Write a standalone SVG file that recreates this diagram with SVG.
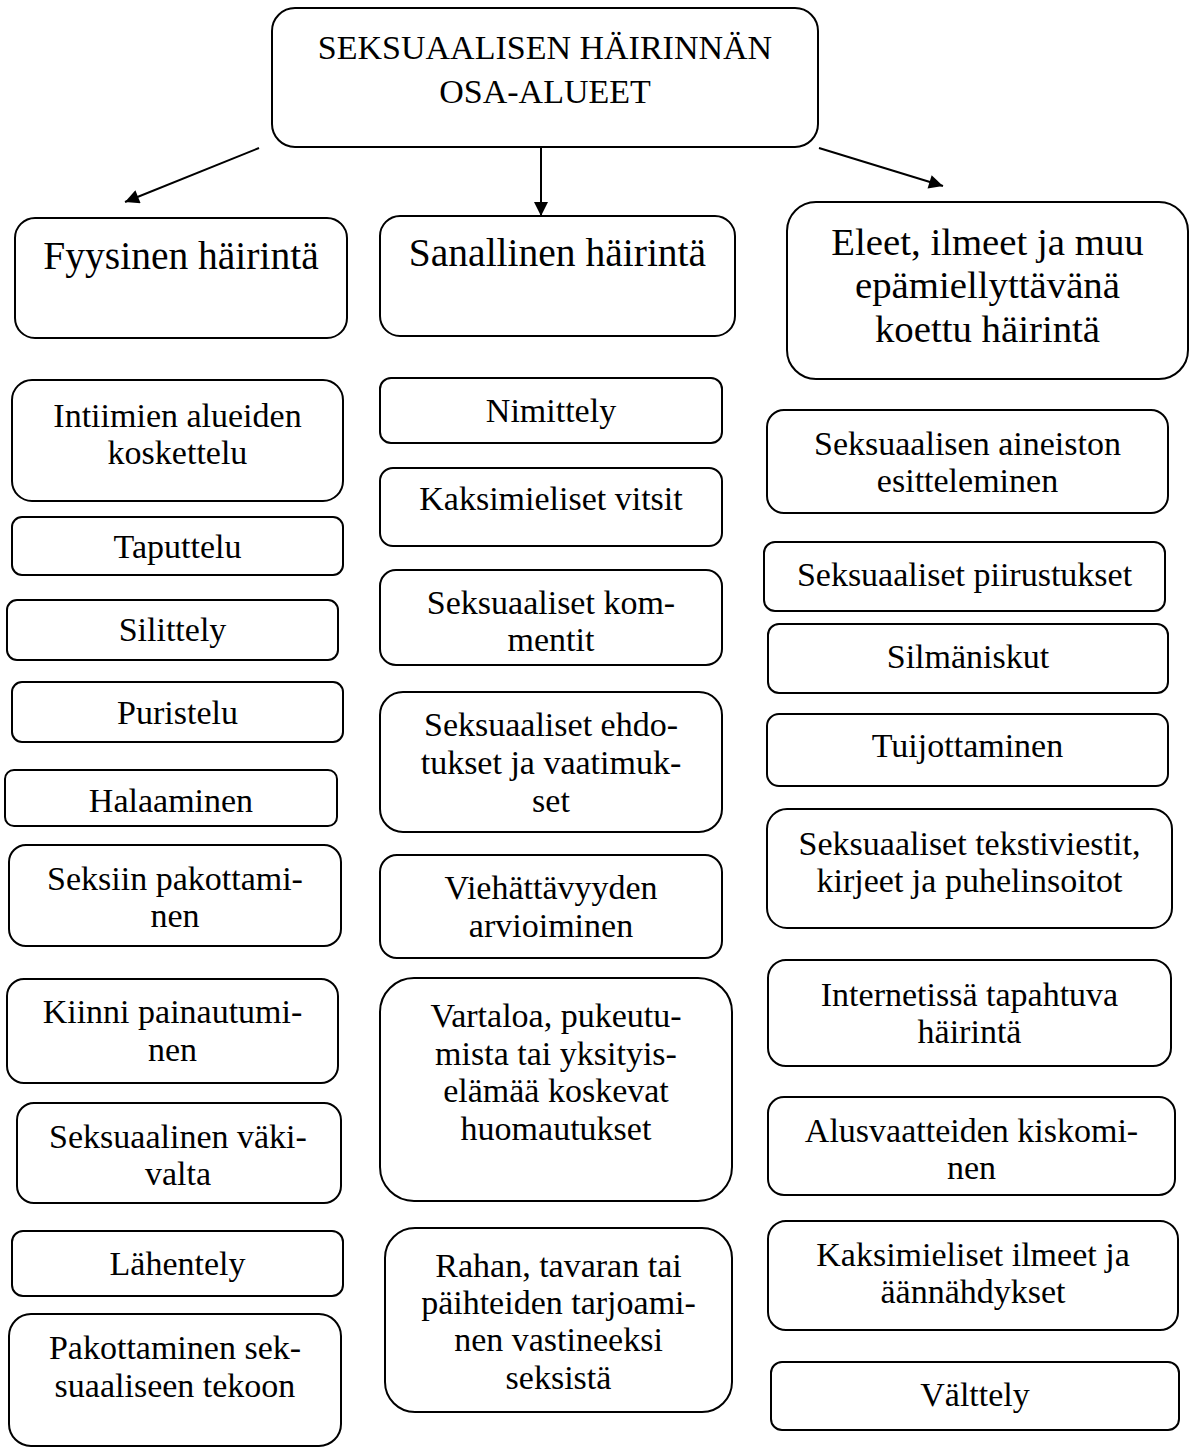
<svg xmlns="http://www.w3.org/2000/svg" width="1195" height="1448" viewBox="0 0 1195 1448">
<style>
.box{fill:#fff;stroke:#000;stroke-width:2}
.t{font-family:"Liberation Serif","Times New Roman",serif;font-size:34px;text-anchor:middle;fill:#000}
.h{font-size:39.5px}
.e{font-size:38.8px}
.ti{font-size:34px}
.c{stroke:#000;stroke-width:2;fill:none}
</style>
<defs>
<marker id="ah" viewBox="0 0 10 10" refX="10" refY="5" markerUnits="userSpaceOnUse" markerWidth="19" markerHeight="14" orient="auto">
<path d="M0,0 L10,5 L0,10 z" fill="#000"/>
</marker>
</defs>
<rect width="1195" height="1448" fill="#fff"/>

<g id="connectors">
<line class="c" x1="259" y1="148" x2="125" y2="202" marker-end="url(#ah)"/>
<line class="c" x1="541" y1="147" x2="541" y2="216" marker-end="url(#ah)"/>
<line class="c" x1="819" y1="148" x2="943" y2="186" marker-end="url(#ah)"/>
</g>

<g id="root">
<rect class="box" x="272" y="8" width="546" height="139" rx="23"/>
<text class="t ti" x="545" y="59">SEKSUAALISEN HÄIRINNÄN</text>
<text class="t ti" x="545" y="103">OSA-ALUEET</text>
</g>

<!-- Column 1 -->
<g id="fyysinen">
<rect class="box" x="15" y="218" width="332" height="120" rx="20"/>
<text class="t h" x="181" y="269">Fyysinen häirintä</text>
</g>
<g id="intiimien">
<rect class="box" x="12" y="380" width="331" height="121" rx="20"/>
<text class="t" x="177.5" y="427">Intiimien alueiden</text>
<text class="t" x="177.5" y="464">koskettelu</text>
</g>
<g id="taputtelu">
<rect class="box" x="12" y="517" width="331" height="58" rx="10"/>
<text class="t" x="177.5" y="558">Taputtelu</text>
</g>
<g id="silittely">
<rect class="box" x="7" y="600" width="331" height="60" rx="10"/>
<text class="t" x="172.5" y="641">Silittely</text>
</g>
<g id="puristelu">
<rect class="box" x="12" y="682" width="331" height="60" rx="10"/>
<text class="t" x="177.5" y="724">Puristelu</text>
</g>
<g id="halaaminen">
<rect class="box" x="5" y="770" width="332" height="56" rx="9"/>
<text class="t" x="171" y="812">Halaaminen</text>
</g>
<g id="seksiin">
<rect class="box" x="9" y="845" width="332" height="101" rx="17"/>
<text class="t" x="175" y="890">Seksiin pakottami-</text>
<text class="t" x="175" y="927">nen</text>
</g>
<g id="kiinni">
<rect class="box" x="7" y="979" width="331" height="104" rx="17"/>
<text class="t" x="172.5" y="1023">Kiinni painautumi-</text>
<text class="t" x="172.5" y="1061">nen</text>
</g>
<g id="vakivalta">
<rect class="box" x="17" y="1103" width="324" height="100" rx="17"/>
<text class="t" x="178" y="1148">Seksuaalinen väki-</text>
<text class="t" x="178" y="1185">valta</text>
</g>
<g id="lahentely">
<rect class="box" x="12" y="1231" width="331" height="65" rx="11"/>
<text class="t" x="177.5" y="1275">Lähentely</text>
</g>
<g id="pakottaminen">
<rect class="box" x="9" y="1314" width="332" height="132" rx="22"/>
<text class="t" x="175" y="1359">Pakottaminen sek-</text>
<text class="t" x="175" y="1397">suaaliseen tekoon</text>
</g>

<!-- Column 2 -->
<g id="sanallinen">
<rect class="box" x="380" y="216" width="355" height="120" rx="20"/>
<text class="t h" x="557.5" y="266">Sanallinen häirintä</text>
</g>
<g id="nimittely">
<rect class="box" x="380" y="378" width="342" height="65" rx="11"/>
<text class="t" x="551" y="422">Nimittely</text>
</g>
<g id="vitsit">
<rect class="box" x="380" y="468" width="342" height="78" rx="13"/>
<text class="t" x="551" y="510">Kaksimieliset vitsit</text>
</g>
<g id="kommentit">
<rect class="box" x="380" y="570" width="342" height="95" rx="16"/>
<text class="t" x="551" y="614">Seksuaaliset kom-</text>
<text class="t" x="551" y="651">mentit</text>
</g>
<g id="ehdotukset">
<rect class="box" x="380" y="692" width="342" height="140" rx="23"/>
<text class="t" x="551" y="736">Seksuaaliset ehdo-</text>
<text class="t" x="551" y="774">tukset ja vaatimuk-</text>
<text class="t" x="551" y="812">set</text>
</g>
<g id="viehattavyys">
<rect class="box" x="380" y="855" width="342" height="103" rx="17"/>
<text class="t" x="551" y="899">Viehättävyyden</text>
<text class="t" x="551" y="937">arvioiminen</text>
</g>
<g id="vartaloa">
<rect class="box" x="380" y="978" width="352" height="223" rx="34"/>
<text class="t" x="556" y="1027">Vartaloa, pukeutu-</text>
<text class="t" x="556" y="1065">mista tai yksityis-</text>
<text class="t" x="556" y="1102">elämää koskevat</text>
<text class="t" x="556" y="1140">huomautukset</text>
</g>
<g id="rahan">
<rect class="box" x="385" y="1228" width="347" height="184" rx="30"/>
<text class="t" x="558.5" y="1277">Rahan, tavaran tai</text>
<text class="t" x="558.5" y="1314">päihteiden tarjoami-</text>
<text class="t" x="558.5" y="1351">nen vastineeksi</text>
<text class="t" x="558.5" y="1389">seksistä</text>
</g>

<!-- Column 3 -->
<g id="eleet">
<rect class="box" x="787" y="202" width="401" height="177" rx="29"/>
<text class="t e" x="987.5" y="255">Eleet, ilmeet ja muu</text>
<text class="t e" x="987.5" y="298">epämiellyttävänä</text>
<text class="t e" x="987.5" y="342">koettu häirintä</text>
</g>
<g id="aineisto">
<rect class="box" x="767" y="410" width="401" height="103" rx="17"/>
<text class="t" x="967.5" y="455">Seksuaalisen aineiston</text>
<text class="t" x="967.5" y="492">esitteleminen</text>
</g>
<g id="piirustukset">
<rect class="box" x="764" y="542" width="401" height="69" rx="11"/>
<text class="t" x="964.5" y="586">Seksuaaliset piirustukset</text>
</g>
<g id="silmaniskut">
<rect class="box" x="768" y="624" width="400" height="69" rx="11"/>
<text class="t" x="968" y="668">Silmäniskut</text>
</g>
<g id="tuijottaminen">
<rect class="box" x="767" y="714" width="401" height="72" rx="12"/>
<text class="t" x="967.5" y="757">Tuijottaminen</text>
</g>
<g id="tekstiviestit">
<rect class="box" x="767" y="809" width="405" height="119" rx="20"/>
<text class="t" x="969.5" y="855">Seksuaaliset tekstiviestit,</text>
<text class="t" x="969.5" y="892">kirjeet ja puhelinsoitot</text>
</g>
<g id="internet">
<rect class="box" x="768" y="960" width="403" height="106" rx="18"/>
<text class="t" x="969.5" y="1006">Internetissä tapahtuva</text>
<text class="t" x="969.5" y="1043">häirintä</text>
</g>
<g id="alusvaatteet">
<rect class="box" x="768" y="1097" width="407" height="98" rx="16"/>
<text class="t" x="971.5" y="1142">Alusvaatteiden kiskomi-</text>
<text class="t" x="971.5" y="1179">nen</text>
</g>
<g id="ilmeet">
<rect class="box" x="768" y="1221" width="410" height="109" rx="18"/>
<text class="t" x="973" y="1266">Kaksimieliset ilmeet ja</text>
<text class="t" x="973" y="1303">äännähdykset</text>
</g>
<g id="valttely">
<rect class="box" x="771" y="1362" width="408" height="68" rx="11"/>
<text class="t" x="975" y="1406">Välttely</text>
</g>
</svg>
